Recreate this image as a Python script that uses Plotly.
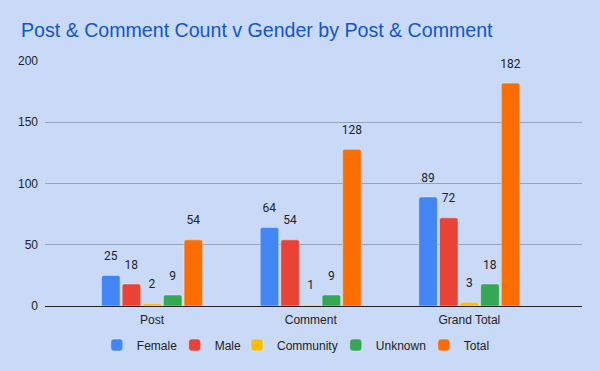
import plotly.graph_objects as go

categories = ["Post", "Comment", "Grand Total"]
series_names = ["Female", "Male", "Community", "Unknown", "Total"]
female = [25, 64, 89]
male = [18, 54, 72]
community = [2, 1, 3]
unknown = [9, 9, 18]
total = [54, 128, 182]
colors = ["#4285f4", "#ea4335", "#fbbc04", "#34a853", "#ff6d01"]

series_values = [female, male, community, unknown, total]

# legend entry left positions (paper fraction of the plot area)
legend_ids = ["legend", "legend2", "legend3", "legend4", "legend5"]
legend_x = [0.0965, 0.2415, 0.3575, 0.5415, 0.7055]

fig = go.Figure()
for name, vals, col, lid in zip(series_names, series_values, colors, legend_ids):
    fig.add_trace(go.Bar(
        x=categories, y=vals, name=name, marker_color=col,
        text=[f"<span style='font-size:12px'>{v}</span><br> " for v in vals],
        textposition="outside",
        textfont=dict(family="Roboto", size=8, color="#222222"),
        cliponaxis=False, constraintext="none", legend=lid,
    ))

legend_common = dict(orientation="h", xanchor="left", y=-0.1, yanchor="top",
                     font=dict(size=12, color="#222222"), itemwidth=30,
                     bgcolor="rgba(0,0,0,0)")
legends = {}
for lid, lx in zip(legend_ids, legend_x):
    legends[lid] = dict(legend_common, x=lx)

fig.update_layout(
    width=600, height=371,
    paper_bgcolor="#c9daf8", plot_bgcolor="#c9daf8",
    barmode="group", bargap=0.35, bargroupgap=0.1, barcornerradius=2,
    margin=dict(l=45, r=18, t=61, b=65),
    title=dict(text="Post & Comment Count v Gender by Post & Comment",
               font=dict(family="Liberation Sans, Arial", size=19.6, color="#1155cc"),
               x=0.035, xanchor="left", y=0.918, yanchor="middle"),
    font=dict(family="Liberation Sans, Arial", size=12, color="#222222"),
    showlegend=True,
    **legends,
)
fig.update_xaxes(range=[-0.675, 2.71], showgrid=False, ticks="", showline=False,
                 ticklabelstandoff=5, tickfont=dict(size=12, color="#222222"))
fig.update_yaxes(range=[0, 200], tickvals=[0, 50, 100, 150, 200],
                 gridcolor="#95a3bd", gridwidth=1, zeroline=True, zerolinecolor="#222222",
                 zerolinewidth=1, ticks="", ticklabelstandoff=6,
                 tickfont=dict(size=12, color="#222222"))

fig.write_html("out.html", config={"displayModeBar": False},
               post_script="document.body.style.margin='0';document.body.style.overflow='hidden';")
